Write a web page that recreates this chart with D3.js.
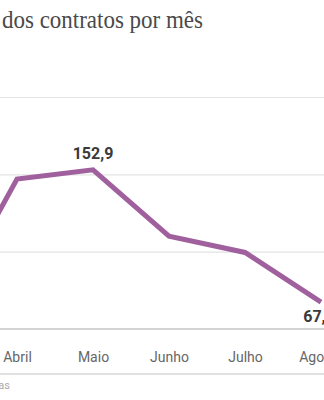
<!DOCTYPE html>
<html>
<head>
<meta charset="utf-8">
<script src="https://cdn.jsdelivr.net/npm/d3@7"></script>
<style>
  body { margin: 0; background: #fff; }
  svg { display: block; }
</style>
</head>
<body>
<div id="chart"></div>
<script>
// months (Março and the rest of Agosto sit outside the visible crop)
const months = ["Março", "Abril", "Maio", "Junho", "Julho", "Agosto"];
const values = [57.5, 147, 152.9, 110, 99.5, 67.4];
const gridTicks = [100, 150, 200];
const labelled = { "Maio": "152,9", "Agosto": "67,4" };

const width = 324;
const height = 400;

const svg = d3.select("#chart").append("svg")
    .attr("width", width)
    .attr("height", height);

const x = d3.scalePoint()
    .domain(months)
    .range([-59, 321]);

const y = d3.scaleLinear()
    .domain([50, 200])
    .range([329, 97]);

// title (left part is cut off in the source)
svg.append("text")
    .attr("x", 2)
    .attr("y", 28)
    .attr("font-family", "Liberation Serif, DejaVu Serif, serif")
    .attr("font-size", 25)
    .attr("fill", "#4a4a4a")
    .attr("textLength", 201)
    .attr("lengthAdjust", "spacingAndGlyphs")
    .text("dos contratos por mês");

// gridlines
const grid = svg.append("g")
    .call(d3.axisLeft(y).tickValues(gridTicks).tickSize(-width).tickFormat(""));
grid.select(".domain").remove();
grid.selectAll(".tick line").attr("stroke", "#e3e3e3").attr("stroke-width", 1.2);

// baseline
svg.append("line")
    .attr("x1", 0).attr("x2", width)
    .attr("y1", y(50)).attr("y2", y(50))
    .attr("stroke", "#a8a8a8")
    .attr("stroke-width", 1.2);

// month axis
const xAxis = svg.append("g")
    .attr("transform", `translate(0,${y(50)})`)
    .call(d3.axisBottom(x).tickSize(0).tickPadding(23));
xAxis.select(".domain").remove();
xAxis.selectAll("text")
    .attr("font-family", "Roboto, sans-serif")
    .attr("font-size", 14)
    .attr("fill", "#666");

// line
const line = d3.line()
    .x((d, i) => x(months[i]))
    .y(d => y(d));

svg.append("path")
    .datum(values)
    .attr("fill", "none")
    .attr("stroke", "#a0609e")
    .attr("stroke-width", 5)
    .attr("stroke-linejoin", "miter")
    .attr("d", line);

// value labels
months.forEach((m, i) => {
  if (!labelled[m]) return;
  const above = m === "Maio";
  svg.append("text")
      .attr("x", above ? x(m) : x(m) - 2)
      .attr("y", above ? y(values[i]) - 11 : y(values[i]) + 20)
      .attr("text-anchor", "middle")
      .attr("font-family", "Roboto, sans-serif")
      .attr("font-weight", "bold")
      .attr("font-size", 16)
      .attr("fill", "#3a3a3a")
      .text(labelled[m]);
});

// bottom separator and source
svg.append("line")
    .attr("x1", 0).attr("x2", width)
    .attr("y1", 374).attr("y2", 374)
    .attr("stroke", "#e0e0e0")
    .attr("stroke-width", 2);

svg.append("text")
    .attr("x", 10)
    .attr("y", 389)
    .attr("text-anchor", "end")
    .attr("font-family", "Roboto, sans-serif")
    .attr("font-size", 11)
    .attr("fill", "#aaa")
    .text("Fonte: Cartórios de Notas");
</script>
</body>
</html>
